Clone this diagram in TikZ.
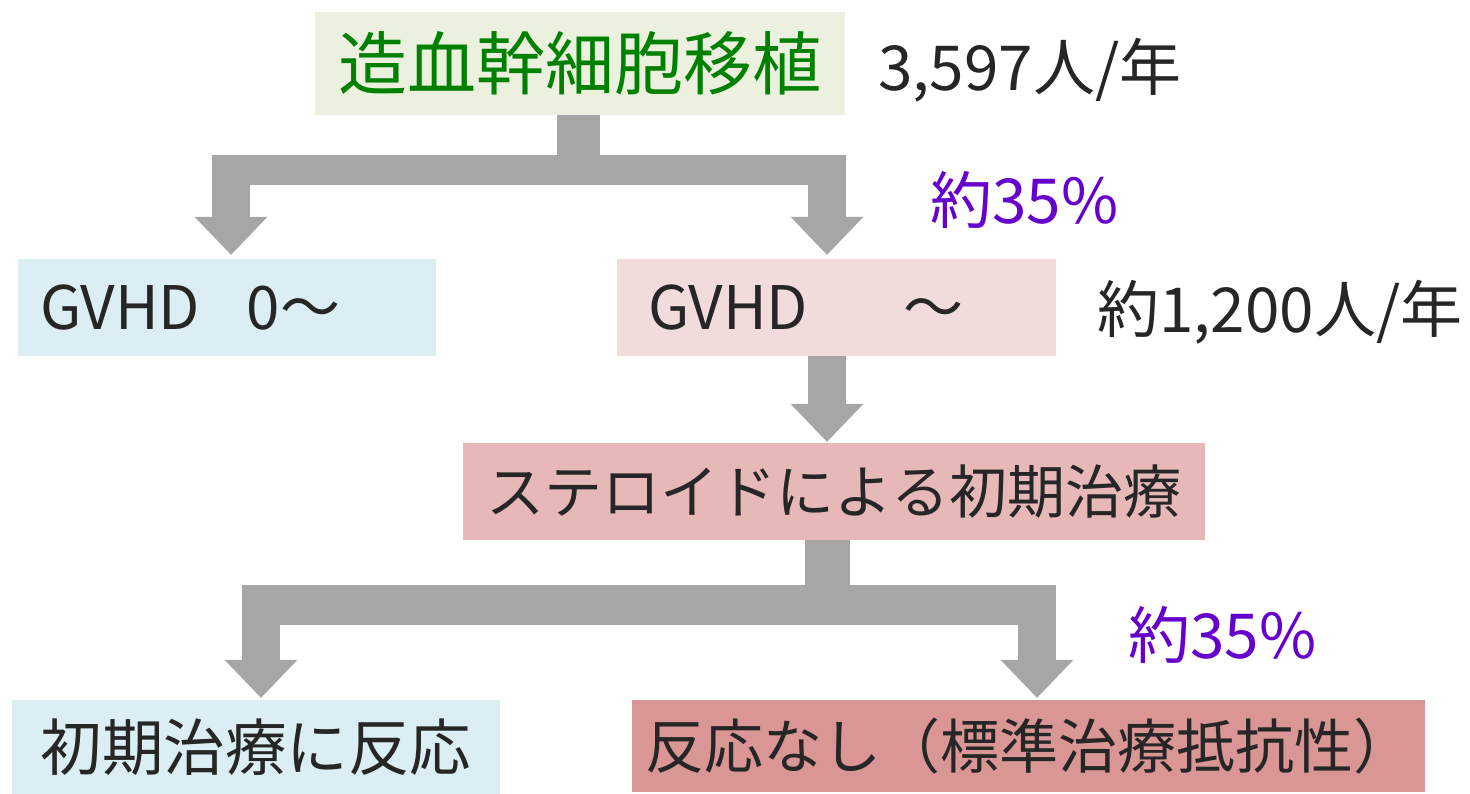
\documentclass[tikz,border=0pt]{standalone}
\usepackage{fontspec}
\setmainfont{Noto Sans CJK JP}
\usetikzlibrary{arrows.meta}
\definecolor{greenbg}{HTML}{EBF1DE}
\definecolor{bluebg}{HTML}{DBEEF4}
\definecolor{pinkbg}{HTML}{F2DCDB}
\definecolor{rosebg}{HTML}{E6B9B8}
\definecolor{redbg}{HTML}{D99694}
\definecolor{arrowgray}{HTML}{A6A6A6}
\definecolor{titlegreen}{HTML}{008000}
\definecolor{txt}{HTML}{262626}
\definecolor{purp}{HTML}{6600CC}
\tikzset{
  box/.style={inner sep=0pt, text=txt, font=\fontsize{60}{62}\selectfont},
  lbl/.style={inner sep=0pt, anchor=west, text=txt, font=\fontsize{62}{64}\selectfont},
  pct/.style={inner sep=0pt, anchor=west, text=purp, font=\fontsize{62}{64}\selectfont},
  bar/.style={draw=arrowgray, line width=#1},
  arm/.style={draw=arrowgray, line width=38pt, -{Triangle[length=38pt,width=73pt,line width=0pt,fill=arrowgray]}},
}
\begin{document}
\begin{tikzpicture}[x=1pt,y=-1pt]
\useasboundingbox (0,0) rectangle (1470,794);
% boxes
\node[box, fill=greenbg, minimum width=530pt, minimum height=103pt, text=titlegreen, font=\fontsize{69}{71}\selectfont] (top) at (580,63.5) {造血幹細胞移植};
\node[box, fill=bluebg, text width=374pt, align=left, inner xsep=22pt, minimum height=97pt] (gl) at (227,307.5) {GVHD\hspace{47pt}0～};
\node[box, fill=pinkbg, text width=377pt, align=left, inner xsep=31pt, minimum height=97pt] (gr) at (836.5,307.5) {GVHD\hspace{96pt}～};
\node[box, fill=rosebg, minimum width=742pt, minimum height=97pt, font=\fontsize{58}{60}\selectfont] (mid) at (834,491.5) {ステロイドによる初期治療};
\node[box, fill=bluebg, minimum width=488pt, minimum height=94pt, font=\fontsize{61.5}{63}\selectfont] (bl) at (256,747) {初期治療に反応};
\node[box, fill=redbg, minimum width=793pt, minimum height=92pt, font=\fontsize{59}{61}\selectfont] (br) at (1028.5,746) {反応なし（標準治療抵抗性）};
% labels
\node[lbl] (n1) at (878,70) {3,597人/年};
\node[pct] (p1) at (930,200) {約35\%};
\node[lbl] (n2) at (1097,312) {約1,200人/年};
\node[pct] (p2) at (1128,635) {約35\%};
% arrow 1
\coordinate (s1) at (578,170);
\coordinate (l1) at (231,155);
\coordinate (r1) at (827,155);
\draw[bar=43pt] (top.south -| s1) -- (s1);
\draw[bar=30pt] (212,170) -- (846,170);
\draw[arm] (l1) -- ([yshift=4pt]gl.north -| l1);
\draw[arm] (r1) -- ([yshift=4pt]gr.north -| r1);
% arrow 2
\coordinate (m2) at (827,400);
\draw[arm] (gr.south -| m2) -- ([yshift=1pt]mid.north -| m2);
% arrow 3
\coordinate (s3) at (827.5,605);
\coordinate (l3) at (261,585);
\coordinate (r3) at (1037,585);
\draw[bar=45pt] (mid.south -| s3) -- (s3);
\draw[bar=40pt] (242,605) -- (1056,605);
\draw[arm] (l3) -- ([yshift=2pt]bl.north -| l3);
\draw[arm] (r3) -- ([yshift=2pt]br.north -| r3);
\end{tikzpicture}
\end{document}
